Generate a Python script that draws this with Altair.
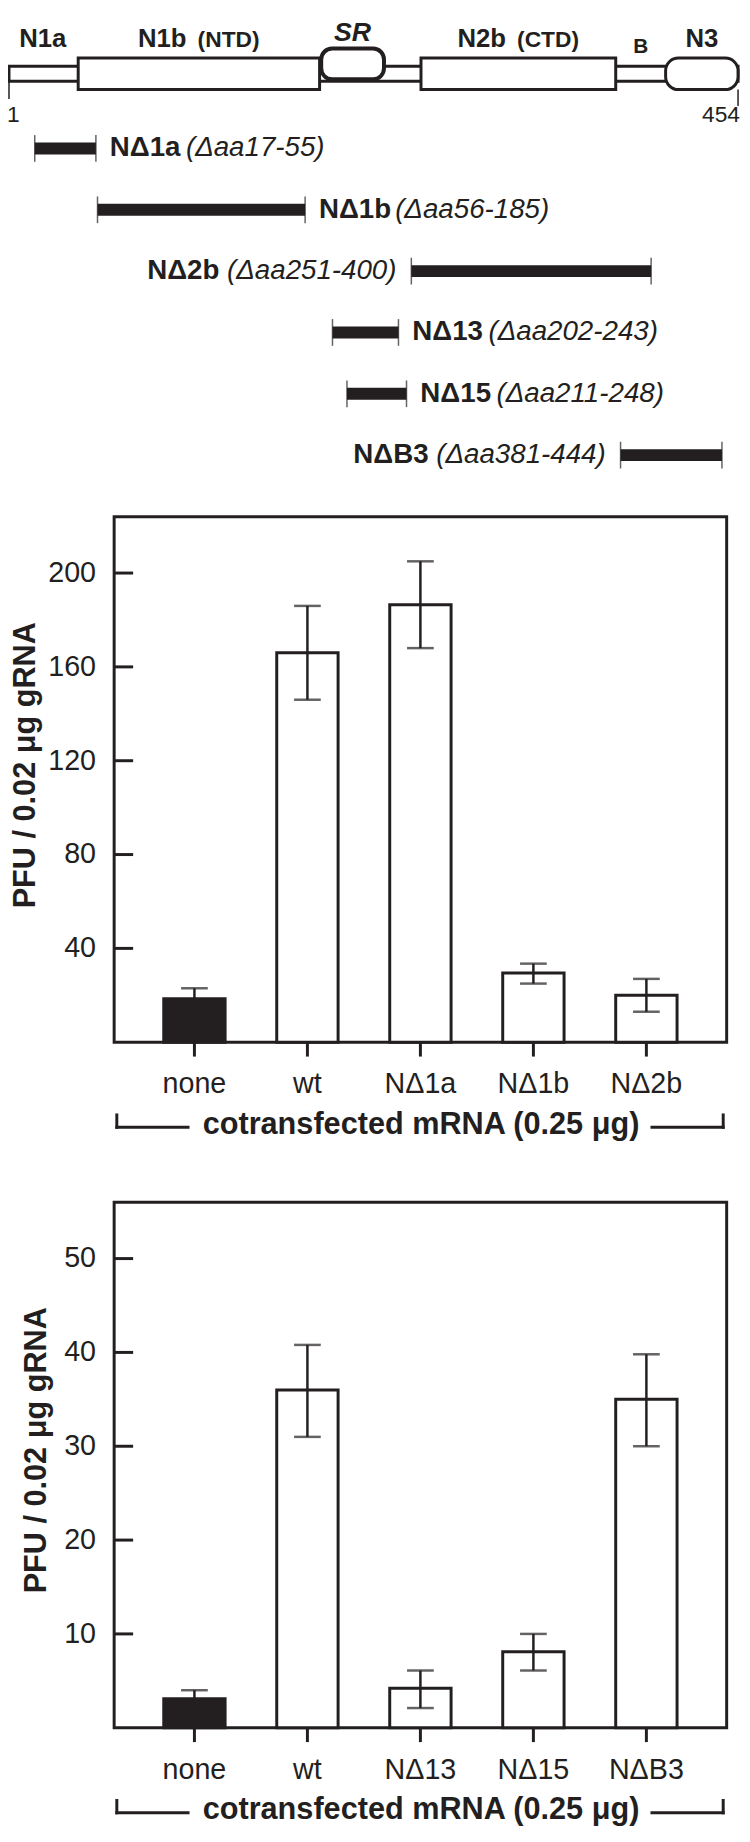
import altair as alt
import pandas as pd

INK = "#231f20"
FONT = "Liberation Sans"
OFF = 8  # page margin: chart coordinates = page coordinates - 8

# ---------------- protein map (amino-acid positions) ----------------
protein_length = 454
region_names = ["N1a", "N1b", "SR", "N2b", "B", "N3"]
region_start = [1, 44, 195, 257, 379, 409]
region_end = [43, 194, 234, 378, 408, 454]
region_sub = ["", "(NTD)", "", "(CTD)", "", ""]

del_names = ["NΔ1a", "NΔ1b", "NΔ2b", "NΔ13", "NΔ15", "NΔB3"]
del_start = [17, 56, 251, 202, 211, 381]
del_end = [55, 185, 400, 243, 248, 444]
del_side = ["right", "right", "left", "right", "right", "left"]

# ---------------- panel 1 ----------------
p1_cats = ["none", "wt", "NΔ1a", "NΔ1b", "NΔ2b"]
p1_vals = [18.5, 166, 186.5, 29.5, 20]
p1_lo = [14, 146, 168, 25, 13]
p1_hi = [23, 186, 205, 33.5, 27]
p1_ticks = [40, 80, 120, 160, 200]
p1_max = 224

# ---------------- panel 2 ----------------
p2_cats = ["none", "wt", "NΔ13", "NΔ15", "NΔB3"]
p2_vals = [3.1, 36, 4.2, 8.1, 35]
p2_lo = [2.2, 31, 2.1, 6.1, 30]
p2_hi = [4, 40.8, 6.1, 10, 39.8]
p2_ticks = [10, 20, 30, 40, 50]
p2_max = 56

y_title = "PFU / 0.02 μg gRNA"
x_title = "cotransfected mRNA (0.25 μg)"

one = pd.DataFrame({"k": [0]})


def prule(x, x2, y, y2, w=3):
    return alt.Chart(one).mark_rule(color=INK, strokeWidth=w, strokeCap="square").encode(
        x=alt.value(x), x2=alt.value(x2), y=alt.value(y), y2=alt.value(y2)
    )


layers = []

# ================= protein map =================
aa = alt.Scale(domain=[1, protein_length], range=[1, 746 - OFF], nice=False, zero=False)
regions = pd.DataFrame(dict(name=region_names, start=region_start, end=region_end, sub=region_sub))
XA = lambda f: alt.X(f, type="quantitative", scale=aa, axis=None)

backbone = alt.Chart(pd.DataFrame({"start": [1], "end": [protein_length]})).mark_rect(
    fill="white", stroke=INK, strokeWidth=3
).encode(x=XA("start"), x2="end:Q", y=alt.value(57 - OFF), y2=alt.value(72 - OFF))
layers.append(backbone)

boxes = alt.Chart(regions).transform_filter(
    alt.FieldOneOfPredicate(field="name", oneOf=["N1b", "N2b"])
).mark_rect(fill="white", stroke=INK, strokeWidth=3).encode(
    x=XA("start"), x2="end:Q", y=alt.value(48.5 - OFF), y2=alt.value(80.5 - OFF)
)
sr = alt.Chart(regions).transform_filter(alt.datum.name == "SR").mark_rect(
    fill="white", stroke=INK, strokeWidth=4, cornerRadius=11
).encode(x=XA("start"), x2="end:Q", y=alt.value(39 - OFF), y2=alt.value(70 - OFF))
n3 = alt.Chart(regions).transform_filter(alt.datum.name == "N3").mark_rect(
    fill="white", stroke=INK, strokeWidth=3, cornerRadius=13
).encode(x=XA("start"), x2="end:Q", y=alt.value(48.5 - OFF), y2=alt.value(80.5 - OFF))
layers += [boxes, sr, n3]

ends = pd.DataFrame({"aa": [1, protein_length], "lab": ["1", str(protein_length)]})
layers.append(
    alt.Chart(ends).transform_filter(alt.datum.aa == 1).mark_rule(color=INK, strokeWidth=1.5)
    .encode(x=XA("aa"), y=alt.value(72 - OFF), y2=alt.value(90 - OFF))
)
layers.append(
    alt.Chart(ends).transform_filter(alt.datum.aa == protein_length).mark_rule(color=INK, strokeWidth=1.5)
    .encode(x=XA("aa"), y=alt.value(80.5 - OFF), y2=alt.value(97 - OFF))
)
layers.append(
    alt.Chart(ends).transform_filter(alt.datum.aa == 1).mark_text(
        font=FONT, fontSize=23, align="left", baseline="alphabetic", dx=-2, color=INK
    ).encode(x=XA("aa"), y=alt.value(113 - OFF), text="lab:N")
)
layers.append(
    alt.Chart(ends).transform_filter(alt.datum.aa == protein_length).mark_text(
        font=FONT, fontSize=23, align="right", baseline="alphabetic", dx=2, color=INK
    ).encode(x=XA("aa"), y=alt.value(113 - OFF), text="lab:N")
)

lab_base = alt.Chart(regions).transform_calculate(mid="(datum.start + datum.end) / 2")
layers.append(
    lab_base.transform_filter(alt.FieldOneOfPredicate(field="name", oneOf=["N1a", "N3"])).mark_text(
        font=FONT, fontSize=26, fontWeight="bold", align="center", baseline="alphabetic", color=INK
    ).encode(x=XA("mid"), y=alt.value(37 - OFF), text="name:N")
)
layers.append(
    lab_base.transform_filter(alt.FieldOneOfPredicate(field="name", oneOf=["N1b", "N2b"])).mark_text(
        font=FONT, fontSize=26, fontWeight="bold", align="center", baseline="alphabetic", dx=-37, color=INK
    ).encode(x=XA("mid"), y=alt.value(37 - OFF), text="name:N")
)
layers.append(
    lab_base.transform_filter(alt.FieldOneOfPredicate(field="name", oneOf=["N1b", "N2b"])).mark_text(
        font=FONT, fontSize=23, fontWeight="bold", align="center", baseline="alphabetic", dx=30, color=INK
    ).encode(x=XA("mid"), y=alt.value(37 - OFF), text="sub:N")
)
layers.append(
    lab_base.transform_filter(alt.datum.name == "SR").mark_text(
        font=FONT, fontSize=27, fontWeight="bold", fontStyle="italic", align="center",
        baseline="alphabetic", color=INK
    ).encode(x=XA("mid"), y=alt.value(31 - OFF), text="name:N")
)
layers.append(
    lab_base.transform_filter(alt.datum.name == "B").mark_text(
        font=FONT, fontSize=21, fontWeight="bold", align="center", baseline="alphabetic", color=INK
    ).encode(x=XA("mid"), y=alt.value(43 - OFF), text="name:N")
)

# ================= deletion constructs =================
dels = pd.DataFrame(dict(
    name=del_names, start=del_start, end=del_end, side=del_side,
    paren=[f"(Δaa{s}-{e})" for s, e in zip(del_start, del_end)],
))
dy = alt.Scale(domain=del_names, range=[140 - OFF, 450 - OFF], type="point", padding=0)
YD = alt.Y("name:N", scale=dy, axis=None)

layers.append(alt.Chart(dels).mark_rule(color=INK, strokeWidth=12).encode(x=XA("start"), x2="end:Q", y=YD))
layers.append(alt.Chart(dels).mark_tick(color=INK, thickness=1.5, size=27).encode(x=XA("start"), y=YD))
layers.append(alt.Chart(dels).mark_tick(color=INK, thickness=1.5, size=27).encode(x=XA("end"), y=YD))

right = alt.Chart(dels).transform_filter(alt.datum.side == "right")
left = alt.Chart(dels).transform_filter(alt.datum.side == "left")
layers.append(right.mark_text(font=FONT, fontSize=28, fontWeight="bold", align="left", baseline="middle",
                              dx=14, color=INK).encode(x=XA("end"), y=YD, text="name:N"))
layers.append(right.mark_text(font=FONT, fontSize=28, fontStyle="italic", align="left", baseline="middle",
                              dx=91, color=INK).encode(x=XA("end"), y=YD, text="paren:N"))
layers.append(left.mark_text(font=FONT, fontSize=28, fontWeight="bold", align="right", baseline="middle",
                             dx=-194, color=INK).encode(x=XA("start"), y=YD, text="name:N"))
layers.append(left.mark_text(font=FONT, fontSize=28, fontStyle="italic", align="right", baseline="middle",
                             dx=-15, color=INK).encode(x=XA("start"), y=YD, text="paren:N"))


# ================= bar panels =================
def panel(cats, vals, lo, hi, ticks, ymax, o, title_x, title_y):
    out = []
    band = alt.Scale(domain=cats, range=[107.3, 726.5], paddingInner=0.457, paddingOuter=0.439, type="band")
    ys = alt.Scale(domain=[0, ymax], range=[1035.5 + o, 504.3 + o], nice=False)
    df = pd.DataFrame(dict(cat=cats, val=vals, lo=lo, hi=hi))
    XB = alt.X("cat:N", scale=band, axis=None)

    out.append(alt.Chart(one).mark_rect(fill="white", fillOpacity=0, stroke=INK, strokeWidth=3).encode(
        x=alt.value(107.3), x2=alt.value(726.5), y=alt.value(504.3 + o), y2=alt.value(1035.5 + o)))
    out.append(alt.Chart(df).mark_bar(stroke=INK, strokeWidth=3).encode(
        x=XB, y=alt.Y("val:Q", scale=ys, axis=None),
        fill=alt.condition("datum.cat == 'none'", alt.value(INK), alt.value("white"))))
    out.append(alt.Chart(df).mark_rule(color=INK, strokeWidth=2.5).encode(
        x=XB, y=alt.Y("lo:Q", scale=ys, axis=None), y2="hi:Q"))
    out.append(alt.Chart(df).mark_tick(color=INK, thickness=2.5, size=27).encode(
        x=XB, y=alt.Y("hi:Q", scale=ys, axis=None)))
    out.append(alt.Chart(df).mark_tick(color=INK, thickness=2.5, size=27).encode(
        x=XB, y=alt.Y("lo:Q", scale=ys, axis=None)))
    out.append(alt.Chart(df).mark_rule(color=INK, strokeWidth=3).encode(
        x=XB, y=alt.value(1035.5 + o), y2=alt.value(1050 + o)))
    out.append(alt.Chart(df).mark_text(font=FONT, fontSize=29, baseline="alphabetic", color=INK).encode(
        x=XB, y=alt.value(1087 + o), text="cat:N"))

    yt = pd.DataFrame({"v": ticks})
    out.append(alt.Chart(yt).mark_rule(color=INK, strokeWidth=3).encode(
        y=alt.Y("v:Q", scale=ys, axis=None), x=alt.value(107.3), x2=alt.value(126.5)))
    out.append(alt.Chart(yt).mark_text(font=FONT, fontSize=29, align="right", baseline="middle", color=INK).encode(
        y=alt.Y("v:Q", scale=ys, axis=None), x=alt.value(89), text=alt.Text("v:Q", format="d")))

    out.append(alt.Chart(pd.DataFrame({"t": [y_title]})).mark_text(
        font=FONT, fontSize=31, fontWeight="bold", angle=270, align="center", baseline="alphabetic", color=INK
    ).encode(x=alt.value(title_x), y=alt.value(title_y), text="t:N"))

    # bracket under the categories
    out.append(prule(110, 110, 1109 + o, 1121.5 + o))
    out.append(prule(110, 182, 1121.5 + o, 1121.5 + o))
    out.append(prule(651, 723, 1121.5 + o, 1121.5 + o))
    out.append(prule(723, 723, 1109 + o, 1121.5 + o))
    out.append(alt.Chart(pd.DataFrame({"t": [x_title]})).mark_text(
        font=FONT, fontSize=31, fontWeight="bold", align="center", baseline="alphabetic", color=INK
    ).encode(x=alt.value(417.5), y=alt.value(1128 + o), text="t:N"))
    return out


layers += panel(p1_cats, p1_vals, p1_lo, p1_hi, p1_ticks, p1_max, 0, 27, 755.5)
layers += panel(p2_cats, p2_vals, p2_lo, p2_hi, p2_ticks, p2_max, 693, 38, 1448)

chart = alt.layer(*layers).resolve_scale(x="independent", y="independent").properties(
    width=742, height=1834, padding=0, autosize=alt.AutoSizeParams(type="none")
).configure_view(strokeWidth=0)

chart.save("out.html", embed_options={"renderer": "svg", "actions": False})
